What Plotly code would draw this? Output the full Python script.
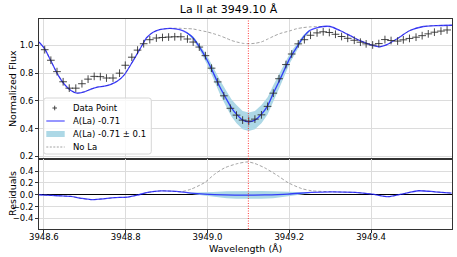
import plotly.graph_objects as go
from plotly.subplots import make_subplots

# ---------------- data ----------------
title_text = "La II at 3949.10 Å"
line_center = 3949.10

data_wl = [3948.602, 3948.617, 3948.632, 3948.647, 3948.662, 3948.678, 3948.693, 3948.708,
           3948.723, 3948.738, 3948.753, 3948.769, 3948.785, 3948.799, 3948.815, 3948.829,
           3948.844, 3948.859, 3948.875, 3948.890, 3948.905, 3948.920, 3948.935, 3948.951,
           3948.965, 3948.980, 3948.995, 3949.010, 3949.025, 3949.040, 3949.056, 3949.071,
           3949.086, 3949.101, 3949.116, 3949.132, 3949.147, 3949.161, 3949.175, 3949.192,
           3949.206, 3949.222, 3949.237, 3949.252, 3949.268, 3949.283, 3949.298, 3949.313,
           3949.328, 3949.343, 3949.359, 3949.374, 3949.388, 3949.404, 3949.419, 3949.434,
           3949.449, 3949.465, 3949.479, 3949.494, 3949.510, 3949.525, 3949.540, 3949.555,
           3949.571, 3949.586]
data_flux = [0.969, 0.893, 0.811, 0.738, 0.692, 0.692, 0.724, 0.757,
             0.777, 0.775, 0.765, 0.765, 0.800, 0.857, 0.915, 0.966,
             1.012, 1.041, 1.053, 1.057, 1.060, 1.062, 1.062, 1.046,
             1.024, 0.988, 0.926, 0.836, 0.737, 0.637, 0.547, 0.498,
             0.462, 0.455, 0.469, 0.500, 0.561, 0.656, 0.760, 0.862,
             0.938, 1.011, 1.041, 1.073, 1.090, 1.098, 1.093, 1.080,
             1.064, 1.051, 1.037, 1.023, 1.011, 1.003, 1.013, 1.042,
             1.035, 1.031, 1.040, 1.050, 1.059, 1.070, 1.083, 1.095,
             1.103, 1.111]

model_wl = [3948.588, 3948.602, 3948.617, 3948.634, 3948.650, 3948.666, 3948.681, 3948.699,
            3948.715, 3948.731, 3948.748, 3948.764, 3948.780, 3948.797, 3948.813, 3948.829,
            3948.842, 3948.851, 3948.867, 3948.883, 3948.900, 3948.916, 3948.932, 3948.949,
            3948.965, 3948.981, 3948.998, 3949.014, 3949.030, 3949.047, 3949.059, 3949.071,
            3949.086, 3949.101, 3949.116, 3949.132, 3949.147, 3949.161, 3949.177, 3949.202,
            3949.218, 3949.234, 3949.250, 3949.267, 3949.283, 3949.300, 3949.324, 3949.349,
            3949.373, 3949.398, 3949.421, 3949.439, 3949.463, 3949.495, 3949.528, 3949.561,
            3949.600]
model_flux = [1.024, 0.975, 0.889, 0.790, 0.720, 0.675, 0.656, 0.666,
              0.685, 0.700, 0.707, 0.720, 0.743, 0.790, 0.864, 0.944,
              1.010, 1.055, 1.095, 1.114, 1.121, 1.121, 1.114, 1.092,
              1.053, 0.985, 0.900, 0.804, 0.702, 0.610, 0.549, 0.505,
              0.462, 0.450, 0.462, 0.505, 0.565, 0.655, 0.753, 0.910,
              0.985, 1.058, 1.107, 1.126, 1.136, 1.136, 1.107, 1.070,
              1.034, 1.005, 0.990, 1.005, 1.046, 1.107, 1.136, 1.143,
              1.145]
nola_flux = [1.024, 0.975, 0.889, 0.790, 0.720, 0.675, 0.656, 0.666,
             0.685, 0.700, 0.707, 0.720, 0.743, 0.790, 0.864, 0.944,
             1.010, 1.055, 1.095, 1.114, 1.121, 1.123, 1.123, 1.121,
             1.118, 1.108, 1.098, 1.085, 1.070, 1.050, 1.035, 1.025,
             1.015, 1.012, 1.015, 1.025, 1.045, 1.065, 1.085, 1.105,
             1.120, 1.128, 1.133, 1.135, 1.136, 1.136, 1.107, 1.070,
             1.034, 1.005, 0.990, 1.005, 1.046, 1.107, 1.136, 1.143,
             1.145]

band_wl = [3948.949, 3948.965, 3948.981, 3948.998, 3949.014, 3949.030, 3949.047, 3949.059,
           3949.071, 3949.086, 3949.101, 3949.116, 3949.132, 3949.147, 3949.161, 3949.177,
           3949.202, 3949.218, 3949.234, 3949.250]
band_upper = [1.097, 1.065, 1.005, 0.930, 0.844, 0.752, 0.668, 0.611,
              0.570, 0.528, 0.516, 0.528, 0.570, 0.627, 0.713, 0.803,
              0.945, 1.010, 1.073, 1.115]
band_lower = [1.087, 1.041, 0.965, 0.870, 0.764, 0.652, 0.552, 0.487,
              0.440, 0.396, 0.384, 0.396, 0.440, 0.503, 0.597, 0.703,
              0.875, 0.960, 1.043, 1.099]

resid_wl = [3948.588, 3948.601, 3948.634, 3948.666, 3948.691, 3948.715, 3948.740, 3948.772,
            3948.805, 3948.829, 3948.854, 3948.886, 3948.911, 3948.935, 3948.960, 3948.993,
            3949.042, 3949.091, 3949.140, 3949.197, 3949.255, 3949.304, 3949.361, 3949.402,
            3949.442, 3949.475, 3949.516, 3949.556, 3949.597]
resid_model = [0.000, -0.005, -0.017, -0.028, -0.060, -0.083, -0.072, -0.050,
               -0.039, -0.005, 0.039, 0.065, 0.061, 0.050, 0.028, 0.011,
               -0.003, -0.008, -0.003, 0.011, 0.039, 0.050, 0.039, 0.011,
               -0.033, 0.011, 0.067, 0.050, 0.028]

nola_resid_wl = [3948.588, 3948.601, 3948.634, 3948.666, 3948.691, 3948.715, 3948.740, 3948.772,
                 3948.805, 3948.829, 3948.854, 3948.886, 3948.911, 3948.935, 3948.960, 3948.993,
                 3949.017, 3949.042, 3949.074, 3949.099, 3949.116, 3949.140, 3949.173, 3949.197,
                 3949.230, 3949.255, 3949.304, 3949.361, 3949.402, 3949.442, 3949.475, 3949.516,
                 3949.556, 3949.597]
nola_resid = [0.000, -0.005, -0.017, -0.028, -0.060, -0.083, -0.072, -0.050,
              -0.039, -0.005, 0.039, 0.065, 0.061, 0.050, 0.095, 0.206,
              0.345, 0.455, 0.528, 0.555, 0.528, 0.455, 0.317, 0.205,
              0.105, 0.067, 0.050, 0.039, 0.011, -0.033, 0.011, 0.067,
              0.050, 0.028]

resid_band_wl = [3948.949, 3948.981, 3949.014, 3949.047, 3949.071, 3949.101, 3949.132,
                 3949.161, 3949.202, 3949.234, 3949.250]
resid_band_upper = [0.035, 0.035, 0.045, 0.058, 0.062, 0.060, 0.062, 0.058, 0.045, 0.040, 0.043]
resid_band_lower = [0.025, -0.005, -0.035, -0.058, -0.070, -0.074, -0.070, -0.058, -0.025, 0.010, 0.027]

legend_labels = ["Data Point", "A(La) -0.71", "A(La) -0.71 ± 0.1", "No La"]

x_range = [3948.588, 3949.598]
flux_range = [0.18, 1.19]
resid_range = [-0.58, 0.60]
flux_ticks = [0.2, 0.4, 0.6, 0.8, 1.0]
flux_tick_labels = ["0.2", "0.4", "0.6", "0.8", "1.0"]
resid_ticks = [-0.4, -0.2, 0.0, 0.2, 0.4]
resid_tick_labels = ["\u22120.4", "\u22120.2", "0.0", "0.2", "0.4"]
wl_ticks = [3948.6, 3948.8, 3949.0, 3949.2, 3949.4]
wl_tick_labels = ["3948.6", "3948.8", "3949.0", "3949.2", "3949.4"]

# ---------------- styles / layout ----------------
W, H = 457, 257
ML, MR, MT, MB = 39, 5, 19, 28
PW, PH = W - ML - MR, H - MT - MB

FONT = "DejaVu Sans, Arial, sans-serif"
MODEL_COLOR = "rgba(0,0,255,0.72)"
LEG_MODEL_COLOR = "rgba(0,0,255,0.55)"
BAND_COLOR = "#ADD8E6"
NOLA_COLOR = "#8c8c8c"
DATA_COLOR = "rgba(40,40,40,0.85)"
GRID = "#dcdcdc"
SPINE = "#333333"


def px(xp):
    return (xp - ML) / PW


def py(yp):
    return (H - MB - yp) / PH


fig = make_subplots(rows=2, cols=1, shared_xaxes=True, vertical_spacing=0,
                    row_heights=[0.668, 0.332])

# top panel
fig.add_trace(go.Scatter(x=band_wl + band_wl[::-1], y=band_upper + band_lower[::-1],
                         fill="toself", fillcolor=BAND_COLOR, mode="lines",
                         line=dict(width=0, color=BAND_COLOR),
                         name=legend_labels[2], showlegend=False), row=1, col=1)
fig.add_trace(go.Scatter(x=model_wl, y=nola_flux, mode="lines",
                         line=dict(color=NOLA_COLOR, width=0.8, dash="3px,2px", shape="spline", smoothing=0.7),
                         name=legend_labels[3], showlegend=False), row=1, col=1)
fig.add_trace(go.Scatter(x=model_wl, y=model_flux, mode="lines",
                         line=dict(color=MODEL_COLOR, width=1.3, shape="spline", smoothing=0.7),
                         name=legend_labels[1], showlegend=False), row=1, col=1)
fig.add_trace(go.Scatter(x=data_wl, y=data_flux, mode="markers",
                         marker=dict(symbol="cross-thin", size=5.5, line=dict(width=1, color=DATA_COLOR)),
                         name=legend_labels[0], showlegend=False), row=1, col=1)

# residual panel
fig.add_trace(go.Scatter(x=resid_band_wl + resid_band_wl[::-1],
                         y=resid_band_upper + resid_band_lower[::-1],
                         fill="toself", fillcolor=BAND_COLOR, mode="lines",
                         line=dict(width=0, color=BAND_COLOR),
                         showlegend=False), row=2, col=1)
fig.add_trace(go.Scatter(x=nola_resid_wl, y=nola_resid, mode="lines",
                         line=dict(color=NOLA_COLOR, width=0.8, dash="3px,2px", shape="spline", smoothing=0.7),
                         showlegend=False), row=2, col=1)
fig.add_trace(go.Scatter(x=resid_wl, y=resid_model, mode="lines",
                         line=dict(color=MODEL_COLOR, width=1.3, shape="spline", smoothing=0.7),
                         showlegend=False), row=2, col=1)

# red dotted line across both panels
fig.add_shape(type="line", xref="x", yref="paper", x0=line_center, x1=line_center, y0=0, y1=1,
              line=dict(color="rgba(255,0,0,0.85)", width=0.9, dash="1px,1.5px"), layer="above")

axis_common = dict(showline=True, mirror=True, linecolor=SPINE, linewidth=1,
                   showgrid=True, gridcolor=GRID, gridwidth=1,
                   tickfont=dict(family=FONT, size=8.5, color="black"))

fig.update_xaxes(range=x_range, tickvals=wl_ticks, ticktext=wl_tick_labels, **axis_common)
fig.update_xaxes(showticklabels=False, ticks="", row=1, col=1)
fig.update_xaxes(ticks="outside", ticklen=3, tickcolor=SPINE, ticklabelstandoff=-3, row=2, col=1)
fig.update_yaxes(range=flux_range, tickvals=flux_ticks, ticktext=flux_tick_labels,
                 ticks="outside", ticklen=3, tickcolor=SPINE, zeroline=False,
                 row=1, col=1, **axis_common)
fig.update_yaxes(range=resid_range, tickvals=resid_ticks, ticktext=resid_tick_labels,
                 ticks="outside", ticklen=3, tickcolor=SPINE,
                 zeroline=True, zerolinecolor="black", zerolinewidth=1,
                 row=2, col=1, **axis_common)

title_font = dict(family=FONT, size=9.5, color="black")
fig.add_annotation(text="Normalized Flux", xref="paper", yref="paper", x=px(12), y=py(89),
                   textangle=-90, showarrow=False, font=title_font, xanchor="center", yanchor="middle")
fig.add_annotation(text="Residuals", xref="paper", yref="paper", x=px(12), y=py(194),
                   textangle=-90, showarrow=False, font=title_font, xanchor="center", yanchor="middle")
fig.add_annotation(text="Wavelength (Å)", xref="paper", yref="paper", x=px(245.5), y=py(248.5),
                   showarrow=False, font=title_font, xanchor="center", yanchor="middle")

# ---------------- legend (drawn as a box with keys and text) ----------------
lx0, lx1, ly0, ly1 = 43.7, 151.3, 98.0, 154.0
r = 2.5
rx, ry = r / PW, r / PH
X0, X1, Y0, Y1 = px(lx0), px(lx1), py(ly1), py(ly0)
box_path = (f"M {X0+rx},{Y0} L {X1-rx},{Y0} Q {X1},{Y0} {X1},{Y0+ry} "
            f"L {X1},{Y1-ry} Q {X1},{Y1} {X1-rx},{Y1} L {X0+rx},{Y1} "
            f"Q {X0},{Y1} {X0},{Y1-ry} L {X0},{Y0+ry} Q {X0},{Y0} {X0+rx},{Y0} Z")
fig.add_shape(type="path", path=box_path, xref="paper", yref="paper",
              fillcolor="rgba(255,255,255,0.8)", line=dict(color="#d6d6d6", width=1), layer="above")

rows_y = [108.0, 121.0, 134.0, 147.0]
kx0, kx1, kxc = 46.3, 64.7, 54.7
# data point key (+)
fig.add_shape(type="line", xref="paper", yref="paper", x0=px(kxc - 2.3), x1=px(kxc + 2.3),
              y0=py(rows_y[0]), y1=py(rows_y[0]), line=dict(color=DATA_COLOR, width=1), layer="above")
fig.add_shape(type="line", xref="paper", yref="paper", x0=px(kxc), x1=px(kxc),
              y0=py(rows_y[0] - 2.3), y1=py(rows_y[0] + 2.3), line=dict(color=DATA_COLOR, width=1), layer="above")
# model key
fig.add_shape(type="line", xref="paper", yref="paper", x0=px(kx0), x1=px(kx1),
              y0=py(rows_y[1]), y1=py(rows_y[1]), line=dict(color=LEG_MODEL_COLOR, width=1.5), layer="above")
# band key
fig.add_shape(type="rect", xref="paper", yref="paper", x0=px(kx0), x1=px(kx1),
              y0=py(rows_y[2] + 3), y1=py(rows_y[2] - 3), fillcolor=BAND_COLOR,
              line=dict(width=0), layer="above")
# no-La key
fig.add_shape(type="line", xref="paper", yref="paper", x0=px(kx0), x1=px(kx1),
              y0=py(rows_y[3]), y1=py(rows_y[3]), line=dict(color=NOLA_COLOR, width=0.8, dash="2px,1.5px"),
              layer="above")
for label, yy in zip(legend_labels, rows_y):
    fig.add_annotation(text=label, xref="paper", yref="paper", x=px(71.0), y=py(yy),
                       showarrow=False, xanchor="left", yanchor="middle",
                       font=dict(family=FONT, size=8.5, color="black"))

fig.update_layout(
    width=W, height=H,
    margin=dict(l=ML, r=MR, t=MT, b=MB),
    paper_bgcolor="white", plot_bgcolor="white",
    title=dict(text=title_text, x=0.5, xref="container", y=1 - 9 / H, yref="container",
               xanchor="center", yanchor="middle", font=dict(family=FONT, size=11, color="black")),
    showlegend=False,
)

fig.write_html("out.html", config={"displayModeBar": False},
               post_script="document.body.style.margin='0';document.body.style.padding='0';")
